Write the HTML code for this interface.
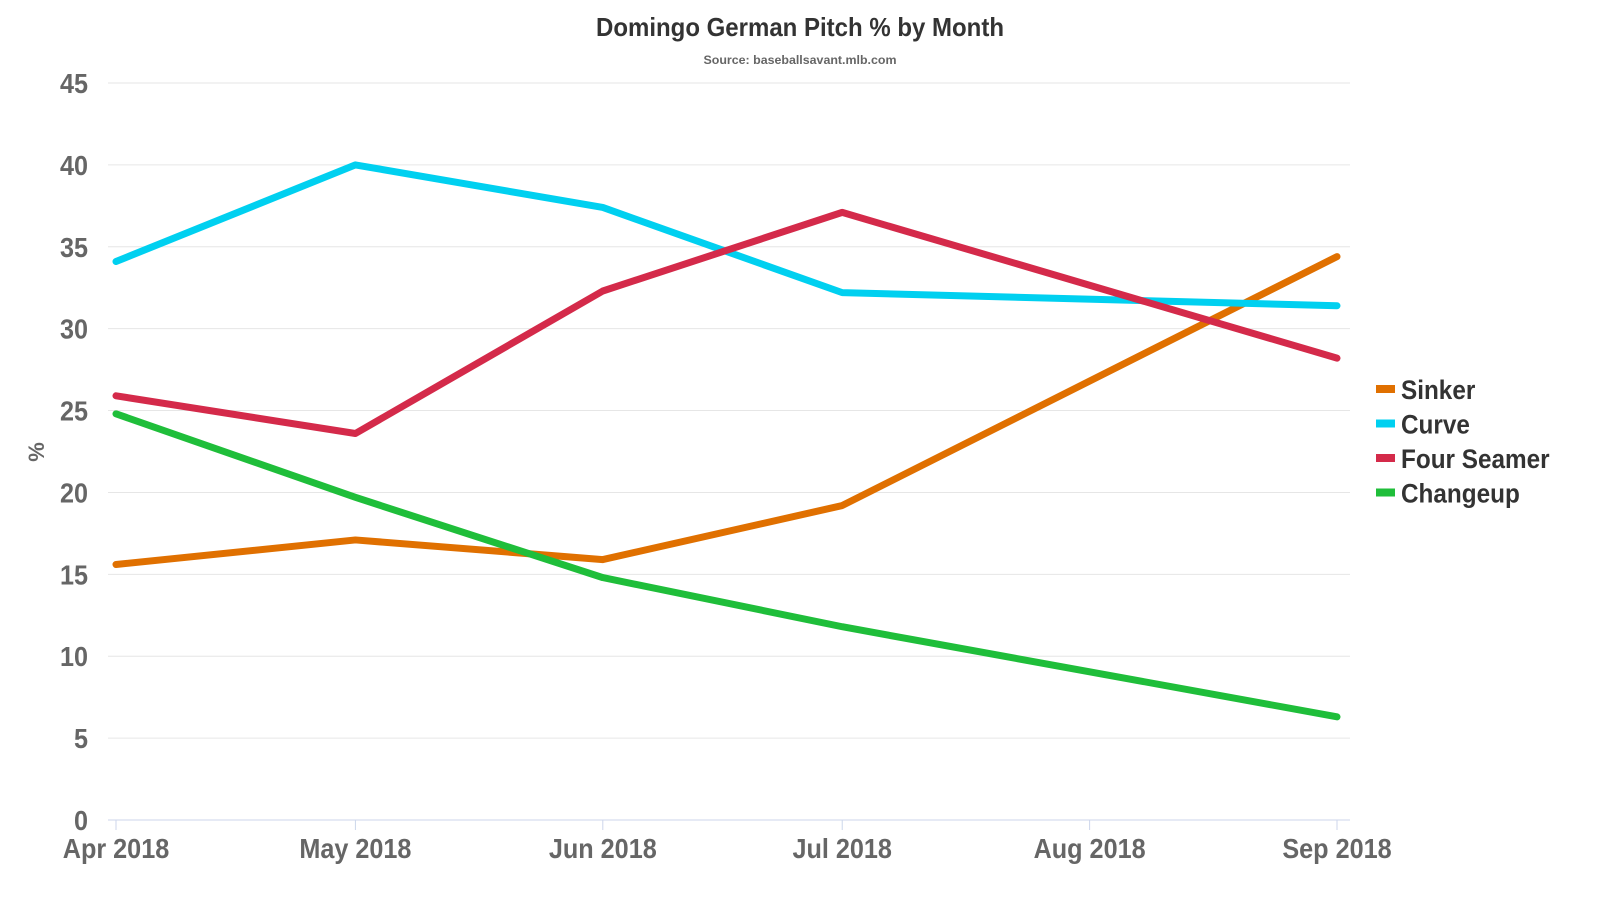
<!DOCTYPE html>
<html><head><meta charset="utf-8"><style>
body{margin:0;background:#fff;}
svg text{font-family:"Liberation Sans Narrow","Liberation Sans",sans-serif;font-weight:bold;}
</style></head><body>
<svg id="c" width="1600" height="900" xmlns="http://www.w3.org/2000/svg">
<text x="800" y="36" text-anchor="middle" font-size="26" fill="#333" textLength="408" lengthAdjust="spacingAndGlyphs">Domingo German Pitch % by Month</text>
<text x="800" y="64" text-anchor="middle" font-size="12" fill="#666" textLength="193" lengthAdjust="spacingAndGlyphs">Source: baseballsavant.mlb.com</text>
<text transform="translate(44,452) rotate(-90)" text-anchor="middle" font-size="22" fill="#666">%</text>
<g id="grid"></g><g id="lines"></g><g id="legend"></g>
</svg>
<script>
const categories=["2018-04-01","2018-05-01","2018-06-01","2018-07-01","2018-09-01"];
const xTicks=["2018-04-01","2018-05-01","2018-06-01","2018-07-01","2018-08-01","2018-09-01"];
const xTickLabels=["Apr 2018","May 2018","Jun 2018","Jul 2018","Aug 2018","Sep 2018"];
const yTicks=[0,5,10,15,20,25,30,35,40,45];
const seriesNames=["Sinker","Curve","Four Seamer","Changeup"];
const sinker=[15.6,17.1,15.9,19.2,34.4];
const curve=[34.1,40.0,37.4,32.2,31.4];
const fourSeamer=[25.9,23.6,32.3,37.1,28.2];
const changeup=[24.8,19.7,14.8,11.8,6.3];
const colors=["#e07000","#00d0f0","#d42a4a","#1fbe3a"];
const NS="http://www.w3.org/2000/svg";
const t0=Date.parse("2018-04-01"),t1=Date.parse("2018-09-01");
function x(d){return 116+(Date.parse(d)-t0)/(t1-t0)*(1337-116);}
function y(v){return 820-v/45*737;}
function mk(tag,attrs,parent){const e=document.createElementNS(NS,tag);for(const k in attrs)e.setAttribute(k,attrs[k]);parent.appendChild(e);return e;}
function squeeze(t,f){const w=t.getComputedTextLength();t.setAttribute('textLength',(w*f).toFixed(1));t.setAttribute('lengthAdjust','spacingAndGlyphs');}
const grid=document.getElementById('grid');
yTicks.forEach(v=>{
 const l=mk('line',{x1:108,x2:1350,y1:y(v),y2:y(v),stroke:v===0?'#ccd6eb':'#e6e6e6','stroke-width':1},grid);
 
 
 const t=mk('text',{x:88,y:y(v)+10,'text-anchor':'end','font-size':28,fill:'#666'},grid);
 t.textContent=v;
 
 
 squeeze(t,0.9);
});
xTicks.forEach((d,i)=>{
 const l=mk('line',{x1:x(d),x2:x(d),y1:820,y2:830,stroke:'#ccd6eb'},grid);
 
 
 const t=mk('text',{x:x(d),y:858,'text-anchor':'middle','font-size':28,fill:'#666'},grid);
 t.textContent=xTickLabels[i];
 
 
 squeeze(t,0.9);
});
const data=[sinker,curve,fourSeamer,changeup];
const lines=document.getElementById('lines');
const legend=document.getElementById('legend');
data.forEach((s,i)=>{
 const p=mk('polyline',{points:s.map((v,j)=>x(categories[j])+','+y(v)).join(' '),fill:'none',stroke:colors[i],'stroke-width':7,'stroke-linejoin':'round','stroke-linecap':'round'},lines);
 
 
 const ly=389+i*34.5;
 const g=mk('g',{},legend);
 
 
 mk('rect',{x:1376,y:ly-4,width:19,height:8,fill:colors[i]},g);
 const t=mk('text',{x:1401,y:ly+10,'font-size':27,fill:'#333'},g);
 t.textContent=seriesNames[i];
 squeeze(t,0.9);
});
</script>
</body></html>
